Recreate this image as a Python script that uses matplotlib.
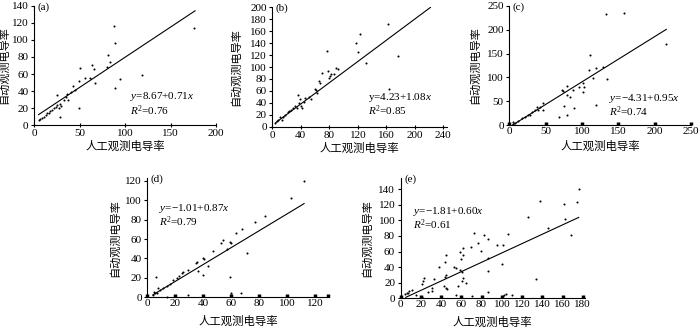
import numpy as np
import matplotlib
matplotlib.use("Agg")
import matplotlib.pyplot as plt

plt.rcParams['font.family'] = ['Liberation Serif', 'Noto Sans CJK SC']
plt.rcParams['mathtext.fontset'] = 'custom'
plt.rcParams['mathtext.rm'] = 'Liberation Serif'
plt.rcParams['mathtext.it'] = 'Liberation Serif:italic'

# ---- data ----
a_x = [88, 89, 176, 81, 84, 80, 64, 66, 50, 67, 94, 119, 89, 49, 56, 61, 49, 43, 45, 41,
       36, 35, 25, 28, 37, 33, 28, 27, 7, 11, 13, 16, 18, 22, 24, 20, 14.5, 9, 25.5, 30, 5]
a_y = [116, 96, 114, 82, 74, 68, 70, 66, 67, 50, 54, 59, 43, 52, 55, 55, 20, 46, 41, 39,
       36, 33, 35, 9, 30, 29, 25, 20, 7, 10, 12, 14.5, 16.5, 19.6, 21.6, 17.6, 13.7, 8, 23.5, 22, 6]
a_line_x = [5, 177]

b_x = [163, 177, 123, 117.6, 120.7, 132, 164, 77, 70, 78.6, 83, 80, 90, 92.6, 87, 81, 66, 67,
       61, 60, 63, 55, 52, 46, 39, 36.5, 37.4, 40, 34, 32, 29.5, 26, 22.5, 18, 13, 11, 8.4, 6,
       3.7, 41, 15, 24, 44]
b_y = [171.5, 119, 155, 141, 124.6, 106, 62.6, 127, 90.5, 94, 89, 82, 98, 96, 88, 85, 77, 74,
       61.5, 64, 57, 46, 49, 47.5, 46, 53, 39, 34.6, 32, 34.6, 30.7, 28, 25, 19.5, 11, 15.6, 12,
       10, 5.6, 32, 17, 26, 42]
b_line_x = [5, 222]
b_line_y = [7, 200]

c_x = [132.6, 158, 215, 111, 110, 119, 129, 115.6, 134, 101, 102.5, 96, 101.8, 88, 72, 74, 80,
       79, 83.5, 89.4, 75.7, 79, 69, 119, 47, 42, 40, 35, 31, 26, 21.6, 17, 12.4, 7.8, 4.6, 5.5,
       47, 37.6, 28]
c_y = [232.5, 234.6, 169.5, 147, 115.5, 120, 122.5, 98, 96.6, 87.5, 80.5, 79, 70, 73.5, 73.5,
       71, 82, 64, 59.5, 35, 40, 21, 16, 42, 45.5, 38.5, 31.5, 31.5, 28, 21, 17.5, 14, 9, 5, 2, 7,
       31.5, 37, 21]
c_line_x = [5, 216]

d_x = [112, 103, 84, 77, 68, 63.5, 71, 54, 53, 59, 60, 57, 47, 40, 40.7, 43.6, 35.7, 34.8, 36.4,
       40, 25.7, 25, 29.3, 23, 21, 18.6, 16, 13.8, 11.4, 9, 6.7, 5.5, 4.3, 7.9, 4.8, 6, 59, 60,
       66.7, 29.3, 13.8]
d_y = [119.5, 102.7, 83.6, 78, 70, 65.8, 46, 59, 55.5, 57, 56, 50, 48, 40, 39, 32, 36.6, 35,
       27.4, 22.6, 26.4, 24.7, 28, 22, 19.5, 17.8, 13.7, 11.6, 10, 7.5, 4.8, 4, 2.4, 9.2, 5.1,
       20.5, 20.5, 4, 4.8, 2.7, 0.7]
d_line_x = [4, 112]

e_x = [176, 174, 138, 161, 125.6, 162, 146, 168.5, 133.5, 106, 72.5, 82, 76, 86, 95.6, 101,
       69.6, 79.5, 62, 58.7, 62, 59.4, 86.7, 44.8, 44, 38, 53, 55, 58.7, 61, 86, 100, 45, 44,
       57, 62, 60.3, 65, 42.8, 45, 46, 23, 21.8, 21, 33, 30.7, 27, 30.7, 15, 11.5, 8.6, 6, 4.3,
       7.6, 21, 54.7, 71, 86, 102, 104, 110]
e_y = [140, 124, 125, 121, 104, 101.5, 90, 81, 25, 82.6, 83.5, 81, 71.5, 76, 69, 68.5, 66, 61,
       64, 60, 55, 51, 52, 55, 47, 40.7, 40.7, 38.5, 36.4, 34, 35, 44, 30, 27, 16, 25.7, 22.7,
       20, 15.8, 12.8, 11.6, 26.5, 22.7, 18.4, 24.4, 12.8, 8.6, 9.4, 4.3, 10.7, 9.4, 7.3, 5.6,
       6.4, 2.1, 4.3, 3, 8.6, 4.3, 5.6, 4.3]
e_line_x = [5, 176]

fit_a = (8.67, 0.71)
fit_c = (-4.31, 0.95)
fit_d = (-1.01, 0.87)
fit_e = (-1.81, 0.60)

xlab = "人工观测电导率"
ylab = "自动观测电导率"

fig = plt.figure(figsize=(7, 3.27), dpi=100)


def style(ax, xlim, ylim, xticks, yticks, ylab_x, xlab_y, thick=False):
    ax.set_xlim(*xlim)
    ax.set_ylim(*ylim)
    ax.set_xticks(xticks)
    ax.set_yticks(yticks)
    for s in ['top', 'right']:
        ax.spines[s].set_visible(False)
    for s in ['left', 'bottom']:
        ax.spines[s].set_linewidth(0.8)
    ax.tick_params(labelsize=8, pad=1.5)
    ax.tick_params(axis='y', direction='out', length=2.5, width=0.8)
    if thick:
        ax.tick_params(axis='x', direction='in', length=2.5, width=2.5)
    else:
        ax.tick_params(axis='x', direction='inout', length=3, width=0.8)
    ax.set_xlabel(xlab, family='Noto Sans CJK SC', fontsize=8.2)
    ax.set_ylabel(ylab, family='Noto Sans CJK SC', fontsize=8)
    ax.xaxis.set_label_coords(0.5, xlab_y)
    ax.yaxis.set_label_coords(ylab_x, 0.5)


def panel(ax, tag):
    ax.text(0.02, 0.99, tag, transform=ax.transAxes, fontsize=8, va='center', ha='left')


def dots(ax, x, y):
    ax.scatter(x, y, s=2.2, c='black', marker='o', linewidths=0, clip_on=False, zorder=3)


def eqtext(ax, x, y1, y2, eq, r2):
    ax.text(x, y1, eq, transform=ax.transAxes, fontsize=8, va='center', ha='left')
    ax.text(x, y2, r2, transform=ax.transAxes, fontsize=8, va='center', ha='left')


# (a)
ax = fig.add_axes([0.0486, 0.6177, 0.26, 0.364])
dots(ax, a_x, a_y)
lx = np.array(a_line_x)
ax.plot(lx, fit_a[0] + fit_a[1] * lx, color='black', lw=0.8)
style(ax, (0, 200), (0, 140), range(0, 201, 50), range(0, 141, 20), -0.135, -0.13)
panel(ax, '(a)')
eqtext(ax, 0.527, 0.24, 0.12, r'$y$=8.67+0.71$x$', r'$R^2$=0.76')

# (b)
ax = fig.add_axes([0.389, 0.6125, 0.2494, 0.365])
dots(ax, b_x, b_y)
ax.plot(b_line_x, b_line_y, color='black', lw=0.8)
style(ax, (0, 245), (0, 200), range(0, 241, 40), range(0, 201, 20), -0.18, -0.13)
panel(ax, '(b)')
eqtext(ax, 0.55, 0.247, 0.135, r'y=4.23+1.08$x$', r'$R^2$=0.85')

# (c)
ax = fig.add_axes([0.7276, 0.6177, 0.2596, 0.364])
dots(ax, c_x, c_y)
lx = np.array(c_line_x)
ax.plot(lx, fit_c[0] + fit_c[1] * lx, color='black', lw=0.8)
style(ax, (0, 250), (0, 250), range(0, 251, 50), range(0, 251, 50), -0.16, -0.13, thick=True)
panel(ax, '(c)')
eqtext(ax, 0.55, 0.225, 0.115, r'$y$=−4.31+0.95$x$', r'$R^2$=0.74')

# (d)
ax = fig.add_axes([0.2104, 0.0908, 0.26, 0.364])
dots(ax, d_x, d_y)
lx = np.array(d_line_x)
ax.plot(lx, fit_d[0] + fit_d[1] * lx, color='black', lw=0.8)
style(ax, (0, 130), (0, 122.5), range(0, 121, 20), range(0, 121, 20), -0.15, -0.155, thick=True)
ax.set_xticks([129], minor=True)
ax.tick_params(axis='x', which='minor', direction='in', length=2.5, width=2.5)
panel(ax, '(d)')
eqtext(ax, 0.066, 0.745, 0.635, r'$y$=−1.01+0.87$x$', r'$R^2$=0.79')

# (e)
ax = fig.add_axes([0.5724, 0.0878, 0.263, 0.367])
dots(ax, e_x, e_y)
lx = np.array(e_line_x)
ax.plot(lx, fit_e[0] + fit_e[1] * lx, color='black', lw=0.8)
style(ax, (0, 182), (0, 154), range(0, 181, 20), range(0, 141, 20), -0.158, -0.15, thick=True)
panel(ax, '(e)')
eqtext(ax, 0.066, 0.722, 0.612, r'$y$=−1.81+0.60$x$', r'$R^2$=0.61')

fig.savefig('out.png', dpi=100)
